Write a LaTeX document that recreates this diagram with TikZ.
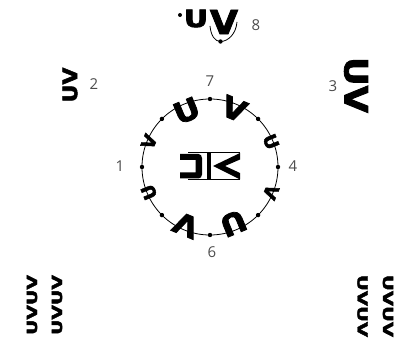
\documentclass[tikz,border=0pt]{standalone}
\usepackage{fontspec}
\setmainfont{Open Sans}
\newfontfamily\glf{DejaVu Sans}[BoldFeatures={FakeBold=2.5}]
\usetikzlibrary{calc}
\newcommand{\gsz}[1]{\fontsize{#1}{#1}\selectfont}
\begin{document}
\begin{tikzpicture}[x=1pt,y=-1pt,
  gl/.style={inner sep=0pt, font={\glf\bfseries\gsz{#1}}},
  lbl/.style={inner sep=0pt, text=black!70, font=\gsz{15}},
  dot/.style={circle, fill=black, inner sep=0pt, minimum size=4.4pt},
  thinline/.style={line width=0.8pt}]
\useasboundingbox (0,0) rectangle (403,344);
% ring
\coordinate (C) at (210,167);
\draw[thinline] (C) circle[radius=68pt];
\foreach \a in {0,45,...,315} \node[dot] (d\a) at ($(C)+(\a:68pt)$) {};
% large glyphs on the ring
\node[gl=29, rotate=22.5, xscale=1.1]  (gU1) at ($(C)+(112.5:61pt)$) {U};
\node[gl=29, rotate=-22.5, xscale=1.1] (gV1) at ($(C)+(67.5:63pt)$) {V};
\node[gl=29, rotate=157.5, xscale=1.1] (gV2) at ($(C)+(247.5:63pt)$) {V};
\node[gl=29, rotate=202.5, xscale=1.1] (gU2) at ($(C)+(292.5:61pt)$) {U};
% small glyphs on the ring
\node[gl=18, rotate=67.5]  (gV3) at ($(C)+(157.5:66pt)$) {V};
\node[gl=18, rotate=-67.5] (gU3) at ($(C)+(22.5:66pt)$) {U};
\node[gl=18, rotate=112.5] (gU4) at ($(C)+(202.5:66pt)$) {U};
\node[gl=18, rotate=247.5] (gV4) at ($(C)+(337.5:66pt)$) {V};
% centre logo
\fill (180,154) -- (198.5,154) to[out=0,in=90] (202,158) -- (202,174.5)
  to[out=-90,in=0] (198.5,178.5) -- (180,178.5) -- (180,172.5) -- (195.5,172.5) -- (195.5,160) -- (180,160) -- cycle;
\fill (207.3,152) rectangle (210.7,180);
\fill (240,153) -- (213,166) -- (240,179.5) -- (240,173) -- (225,166) -- (240,159.5) -- cycle;
\draw[line width=0.6pt] (188,152.3) -- (240,152.3);
\draw[line width=0.6pt] (188,179.7) -- (240,179.7);
% top glyph (8)
\node[dot, minimum size=4pt] (t0) at (180,15) {};
\node[gl=24, xscale=1.25] (tU) at (196,18.5) {U};
\node[gl=33, xscale=1.1] (tV) at (224,22) {V};
\node[dot] (t1) at (220.5,41.5) {};
\draw[thinline] (210,26) .. controls (211,36) and (215,41.5) .. (t1.center)
  .. controls (228,41.5) and (236,34) .. (237,22);
% glyph 2
\node[gl=20, rotate=90, xscale=1.1] (g2) at (70,85) {UV};
% glyph 3
\node[gl=32, rotate=-90, xscale=1.1] (g3) at (356,85) {UV};
% bottom-left columns
\node[gl=14, rotate=90, xscale=1.35] (bl1) at (32,305) {UVUV};
\node[gl=14, rotate=90, xscale=1.35] (bl2) at (57,305) {UVUV};
% bottom-right columns
\node[gl=14, rotate=-90, xscale=1.4] (br1) at (362.5,306) {UVUV};
\node[gl=14, rotate=-90, xscale=1.4] (br2) at (388,306) {UVUV};
% labels
\node[lbl] (l1) at (120,166) {1};
\node[lbl] (l2) at (94,84) {2};
\node[lbl] (l3) at (333,86) {3};
\node[lbl] (l4) at (293,166) {4};
\node[lbl] (l6) at (212,252) {6};
\node[lbl] (l7) at (210,81) {7};
\node[lbl] (l8) at (256,25) {8};
\end{tikzpicture}
\end{document}
